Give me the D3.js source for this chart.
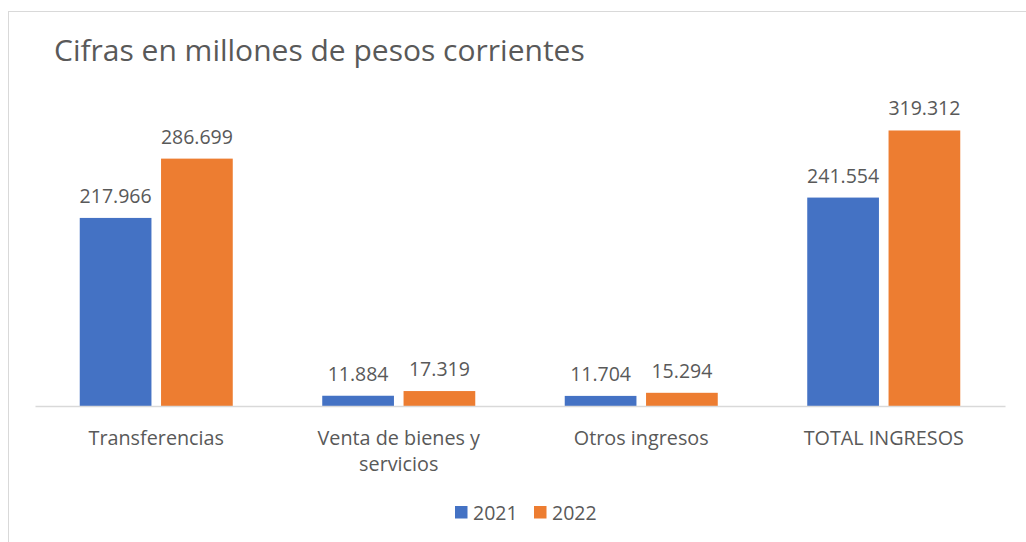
<!DOCTYPE html>
<html><head><meta charset="utf-8">
<script src="https://cdn.jsdelivr.net/npm/d3@7"></script>
<style>
html,body{margin:0;padding:0;background:#fff;}
text{font-family:"Open Sans",sans-serif;fill:#595959;}
</style></head>
<body>
<svg id="chart" width="1026" height="542"></svg>
<script>
const categories = ["Transferencias", "Venta de bienes y servicios", "Otros ingresos", "TOTAL INGRESOS"];
const categoryLines = [["Transferencias"], ["Venta de bienes y", "servicios"], ["Otros ingresos"], ["TOTAL INGRESOS"]];
const seriesNames = ["2021", "2022"];
const values2021 = [217966, 11884, 11704, 241554];
const values2022 = [286699, 17319, 15294, 319312];
const colors = ["#4472C4", "#ED7D31"];
const titleText = "Cifras en millones de pesos corrientes";

const svg = d3.select("#chart");
const locale = d3.formatLocale({decimal: ",", thousands: ".", grouping: [3], currency: ["$", ""]});
const fmt = locale.format(",d");

// border
svg.append("rect").attr("x", 8.5).attr("y", 11.5).attr("width", 1030).attr("height", 540)
  .attr("fill", "none").attr("stroke", "#D9D9D9").attr("stroke-width", 1);

svg.append("text").attr("x", 54).attr("y", 61).attr("font-size", 30).text(titleText);

const x0 = d3.scaleBand().domain(categories).range([35, 1005]).paddingInner(0.369).paddingOuter(0.1845);
const x1 = d3.scaleBand().domain(seriesNames).range([0, x0.bandwidth()]).paddingInner(0.118).paddingOuter(0);
const y = d3.scaleLinear().domain([0, 350000]).range([406, 104]);

const data = categories.map((c, i) => ({cat: c, vals: [values2021[i], values2022[i]]}));

const g = svg.append("g");
const groups = g.selectAll("g.cat").data(data).join("g").attr("class", "cat")
  .attr("transform", d => `translate(${x0(d.cat)},0)`);

groups.selectAll("rect").data(d => d.vals.map((v, j) => ({s: seriesNames[j], v, j})))
  .join("rect")
  .attr("x", d => x1(d.s)).attr("width", x1.bandwidth())
  .attr("y", d => y(d.v)).attr("height", d => y(0) - y(d.v))
  .attr("fill", d => colors[d.j]);

groups.selectAll("text.val").data(d => d.vals.map((v, j) => ({s: seriesNames[j], v, j})))
  .join("text").attr("class", "val")
  .attr("x", d => x1(d.s) + x1.bandwidth() / 2).attr("y", d => y(d.v) - 15)
  .attr("text-anchor", "middle").attr("font-size", 19.5).text(d => fmt(d.v));

// axis
const axis = d3.axisBottom(x0).tickSize(0).tickFormat("");
const ax = svg.append("g").attr("transform", `translate(0,${y(0)})`).call(axis);
ax.select(".domain").attr("stroke", "#D9D9D9").attr("stroke-width", 1.3);
ax.selectAll(".tick").each(function(d, i) {
  const t = d3.select(this).append("text").attr("text-anchor", "middle").attr("font-size", 19.8)
    .style("fill", "#595959");
  categoryLines[i].forEach((line, k) => {
    t.append("tspan").attr("x", 0).attr("y", 39 + k * 26).text(line);
  });
});

// legend
const legend = svg.append("g").attr("transform", "translate(455,506)");
const items = [{n: seriesNames[0], c: colors[0], x: 0}, {n: seriesNames[1], c: colors[1], x: 79}];
items.forEach(it => {
  legend.append("rect").attr("x", it.x).attr("y", 0).attr("width", 12.5).attr("height", 12.5).attr("fill", it.c);
  legend.append("text").attr("x", it.x + 18).attr("y", 13.5).attr("font-size", 19.5).text(it.n);
});
</script>
</body></html>
